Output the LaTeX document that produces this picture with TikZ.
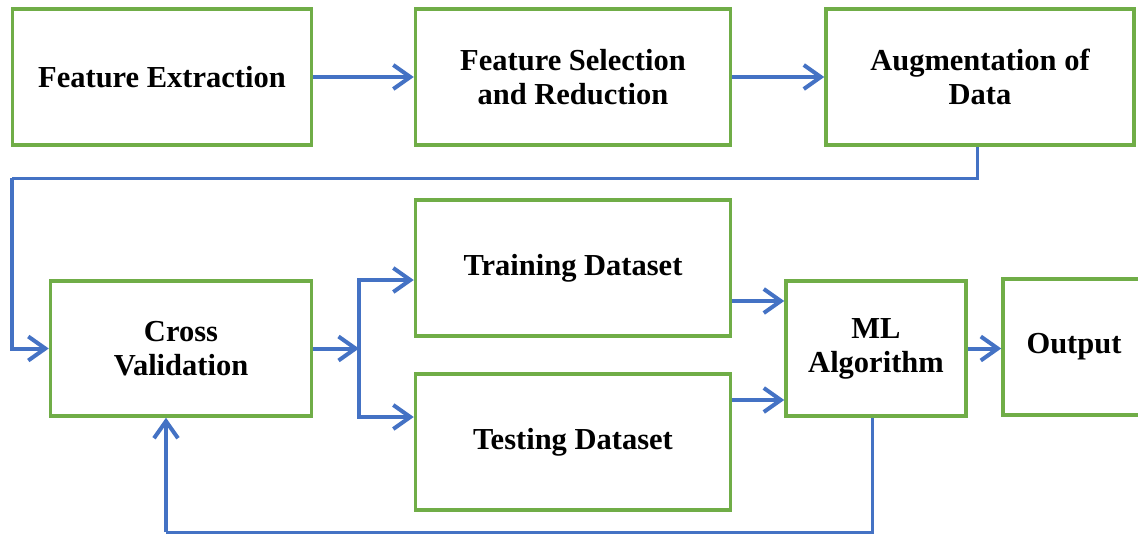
\documentclass[tikz,border=0pt]{standalone}
\usepackage{fontspec}
\setmainfont{Liberation Serif}
\usetikzlibrary{arrows.meta}
\definecolor{boxgreen}{HTML}{70AD47}
\definecolor{lineblue}{HTML}{4472C4}
\begin{document}
\begin{tikzpicture}[
        x=1pt, y=-1pt,
        boxn/.style={draw=boxgreen, line width=3.5pt, rectangle, align=center, inner sep=0pt,
            font=\fontsize{30.5}{34}\selectfont\bfseries},
        flow/.style={draw=lineblue, line width=4pt, -{Straight Barb[length=17pt, width=24pt, line width=4pt]}},
        back/.style={draw=lineblue, line width=3pt},
    ]
    \useasboundingbox (0,0) rectangle (1138,533);
    \node[boxn, minimum width=299pt, minimum height=136pt](fe) at (162,77) {Feature Extraction};
    \node[boxn, minimum width=315pt, minimum height=136pt](fsr) at (573,77) {Feature Selection\\and Reduction};
    \node[boxn, minimum width=308pt, minimum height=136pt](aug) at (980,77) {Augmentation of\\Data};
    \node[boxn, minimum width=261pt, minimum height=135pt](cv) at (181,348.5) {Cross\\Validation};
    \node[boxn, minimum width=315pt, minimum height=136pt](train) at (573,268) {Training Dataset};
    \node[boxn, minimum width=315pt, minimum height=136pt](test) at (573,442) {Testing Dataset};
    \node[boxn, minimum width=180pt, minimum height=135pt](ml) at (876,348.5) {ML\\Algorithm};
    \node[boxn, minimum width=142pt, minimum height=136pt](out) at (1074,347) {Output};
    \coordinate (lp) at (12,178);
    \coordinate (sp) at (359,348.5);
    \coordinate (tr) at ([yshift=-33pt]train.east);
    \coordinate (te) at ([yshift=42pt]test.east);
    \coordinate (fb) at (166,532);
    \draw[flow] (fe.east) -- (fsr.west);
    \draw[flow] (fsr.east) -- (aug.west);
    \draw[back] ([xshift=-3pt]aug.south) |- (lp);
    \draw[flow] (lp) |- (cv.west);
    \draw[flow] (cv.east) -- (sp);
    \draw[flow] (sp) |- ([yshift=-12pt]train.west);
    \draw[flow] (sp) |- ([yshift=25pt]test.west);
    \draw[flow] (tr) -- (tr -| ml.west);
    \draw[flow] (te) -- (te -| ml.west);
    \draw[flow] (ml.east) -- (ml.east -| out.west);
    \draw[back] ([xshift=-4pt]ml.south) |- (fb);
    \draw[flow] (fb) -- (fb |- cv.south);
\end{tikzpicture}
\end{document}
